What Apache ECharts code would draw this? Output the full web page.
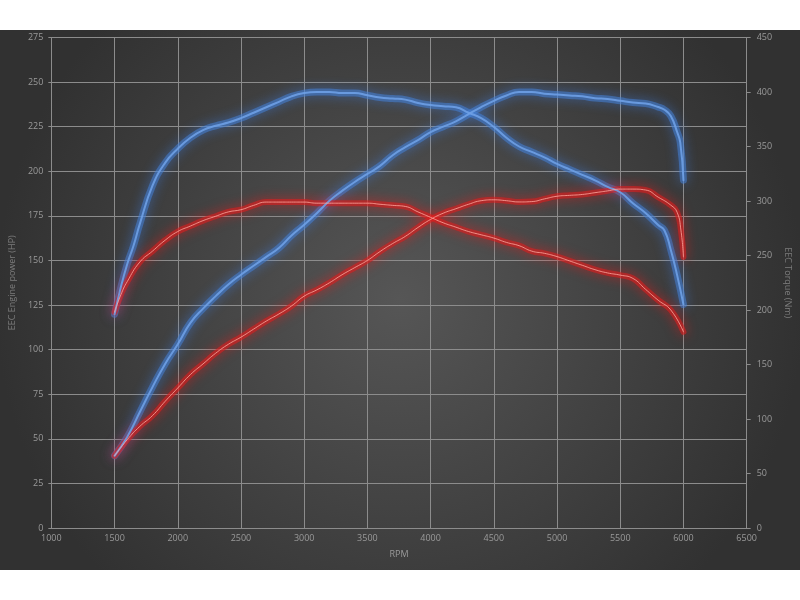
<!DOCTYPE html>
<html>
<head>
<meta charset="utf-8">
<script src="https://cdn.jsdelivr.net/npm/echarts@6/dist/echarts.min.js"></script>
<style>
html,body{margin:0;padding:0;background:#ffffff;width:800px;height:600px;overflow:hidden;}
#chart{position:absolute;left:0;top:30px;width:800px;height:540px;}
</style>
</head>
<body>
<div id="chart"></div>
<script>
// ---- Data ----
var xTicks = [1000,1500,2000,2500,3000,3500,4000,4500,5000,5500,6000,6500];
var hpTicks = [0,25,50,75,100,125,150,175,200,225,250,275];
var nmTicks = [0,50,100,150,200,250,300,350,400,450];

// Torque (Nm), blue run
var blueTorqueRpm = [1500,1550,1600,1650,1700,1800,1900,2000,2100,2200,2300,2400,2500,2600,2700,2800,2900,3000,3100,3200,3300,3400,3500,3600,3700,3800,3900,4000,4100,4200,4300,4400,4500,4600,4700,4800,4900,5000,5100,5200,5300,5400,5500,5600,5700,5800,5850,5900,5950,6000];
var blueTorqueNm = [196,221,242,259,279,314,335,348,358,365,369,372,376,381,386,391,396,399,400,400,399,399,397,395,394,393,390,388,387,386,381,376,368,358,350,345,340,334,329,324,319,313,308,298,289,278,273,255,232,205];

// Torque (Nm), red run
var redTorqueRpm = [1500,1550,1600,1700,1800,1900,2000,2100,2200,2300,2400,2500,2600,2700,2800,2900,3000,3100,3200,3300,3400,3500,3600,3700,3800,3900,4000,4100,4200,4300,4400,4500,4600,4700,4800,4900,5000,5100,5200,5300,5400,5500,5600,5700,5800,5900,6000];
var redTorqueNm = [198,214,226,244,254,264,272,277,282,286,290,292,296,299,299,299,299,298,298,298,298,298,297,296,295,290,285,280,276,272,269,266,262,259,254,252,249,245,241,237,234,232,229,219,209,200,180];

// Power (HP), blue run
var bluePowerRpm = [1500,1600,1700,1800,1900,2000,2100,2200,2300,2400,2500,2600,2700,2800,2900,3000,3100,3200,3300,3400,3500,3600,3700,3800,3900,4000,4100,4200,4300,4400,4500,4600,4700,4800,4900,5000,5100,5200,5300,5400,5500,5600,5700,5800,5850,5900,5950,5975,6000];
var bluePowerHp = [40.5,51,65,79,92,103,115,123,130,136.5,142,147,152,157,164,170,176.5,183.5,189,194,198.5,203,209,213.5,217.5,222,225,228,232,236,239.5,242.5,244.5,244.5,243.5,243,242.5,242,241,240.5,239.5,238.5,238,236,234.5,231,222,216,195];

// Power (HP), red run
var redPowerRpm = [1500,1600,1700,1800,1900,2000,2100,2200,2300,2400,2500,2600,2700,2800,2900,3000,3100,3200,3300,3400,3500,3600,3700,3800,3900,4000,4100,4200,4300,4400,4500,4600,4700,4800,4900,5000,5100,5200,5300,5400,5500,5600,5700,5800,5900,5950,5980,6000];
var redPowerHp = [40.5,49.5,57,63,71,78.5,86,92,98,103,107,111.5,116,120,124.5,130,133.5,137.5,142,146,150,155,159.5,163.5,168.5,173,176.5,179,181.5,183.5,184,183.5,182.8,183,184.5,186,186.5,187,188,189,190,190,189.5,185.5,181,177,167,152];

function pairs(xs, ys){ return xs.map(function(x,i){ return [x, ys[i]]; }); }

var BLUE_GLOW = 'rgba(70,130,215,0.55)', BLUE_SHADOW = 'rgba(60,130,240,0.9)', BLUE_CORE = 'rgba(110,160,230,0.9)';
var RED_GLOW = 'rgba(220,30,30,0.6)', RED_SHADOW = 'rgba(255,20,20,0.95)', RED_CORE = '#ffa8a0';

function glow(name, data, yIdx, c, s, w){
  return {name:name, type:'line', yAxisIndex:yIdx, data:data, smooth:0.5, showSymbol:false, silent:true,
    lineStyle:{width:w, color:c, shadowBlur:12, shadowColor:s, cap:'round'}, z:2};
}
function core(name, data, yIdx, c, w){
  return {name:name, type:'line', yAxisIndex:yIdx, data:data, smooth:0.5, showSymbol:false, silent:true,
    lineStyle:{width:w, color:c, cap:'round'}, z:3};
}

var chart = echarts.init(document.getElementById('chart'), null, {renderer:'canvas'});
var labelStyle = {color:'#9a9a9a', fontSize:9, fontFamily:'Open Sans'};
chart.setOption({
  animation:false,
  backgroundColor:{type:'radial', x:0.5, y:0.5, r:0.75,
    colorStops:[{offset:0,color:'#565656'},{offset:1,color:'#313131'}]},
  grid:{left:50, right:51, top:7.5, bottom:42},
  xAxis:{type:'value', min:1000, max:6500, interval:500,
    name:'RPM', nameLocation:'middle', nameGap:22,
    nameTextStyle:{color:'#9a9a9a', fontSize:9, fontFamily:'Open Sans'},
    axisLine:{show:true, lineStyle:{color:'#8c8c8c', width:1}},
    axisTick:{show:false},
    axisLabel:Object.assign({margin:6, formatter:function(v){ return String(v); }}, labelStyle),
    splitLine:{show:true, lineStyle:{color:'#8c8c8c', width:1}}},
  yAxis:[
    {type:'value', min:0, max:275, interval:25, position:'left',
      name:'EEC Engine power (HP)', nameLocation:'middle', nameGap:34, nameRotate:90,
      nameTextStyle:{color:'#7c7c7c', fontSize:9, fontFamily:'Open Sans'},
      axisLine:{show:true, lineStyle:{color:'#8c8c8c'}},
      axisTick:{show:true, length:3, lineStyle:{color:'#8c8c8c'}},
      axisLabel:Object.assign({margin:8}, labelStyle),
      splitLine:{show:true, lineStyle:{color:'#8c8c8c', width:1}}},
    {type:'value', min:0, max:450, interval:50, position:'right',
      name:'EEC Torque (Nm)', nameLocation:'middle', nameGap:36, nameRotate:-90,
      nameTextStyle:{color:'#7c7c7c', fontSize:9, fontFamily:'Open Sans'},
      axisLine:{show:true, lineStyle:{color:'#8c8c8c'}},
      axisTick:{show:true, length:4, lineStyle:{color:'#8c8c8c'}},
      axisLabel:Object.assign({margin:10}, labelStyle),
      splitLine:{show:false}}
  ],
  series:[
    glow('Torque blue', pairs(blueTorqueRpm, blueTorqueNm), 1, BLUE_GLOW, BLUE_SHADOW, 7),
    glow('Power blue', pairs(bluePowerRpm, bluePowerHp), 0, BLUE_GLOW, BLUE_SHADOW, 7),
    glow('Torque red', pairs(redTorqueRpm, redTorqueNm), 1, RED_GLOW, RED_SHADOW, 6),
    glow('Power red', pairs(redPowerRpm, redPowerHp), 0, RED_GLOW, RED_SHADOW, 6),
    core('Torque blue core', pairs(blueTorqueRpm, blueTorqueNm), 1, BLUE_CORE, 2),
    core('Power blue core', pairs(bluePowerRpm, bluePowerHp), 0, BLUE_CORE, 2),
    core('Torque red core', pairs(redTorqueRpm, redTorqueNm), 1, RED_CORE, 0.8),
    core('Power red core', pairs(redPowerRpm, redPowerHp), 0, RED_CORE, 0.8)
  ]
});
</script>
</body>
</html>
